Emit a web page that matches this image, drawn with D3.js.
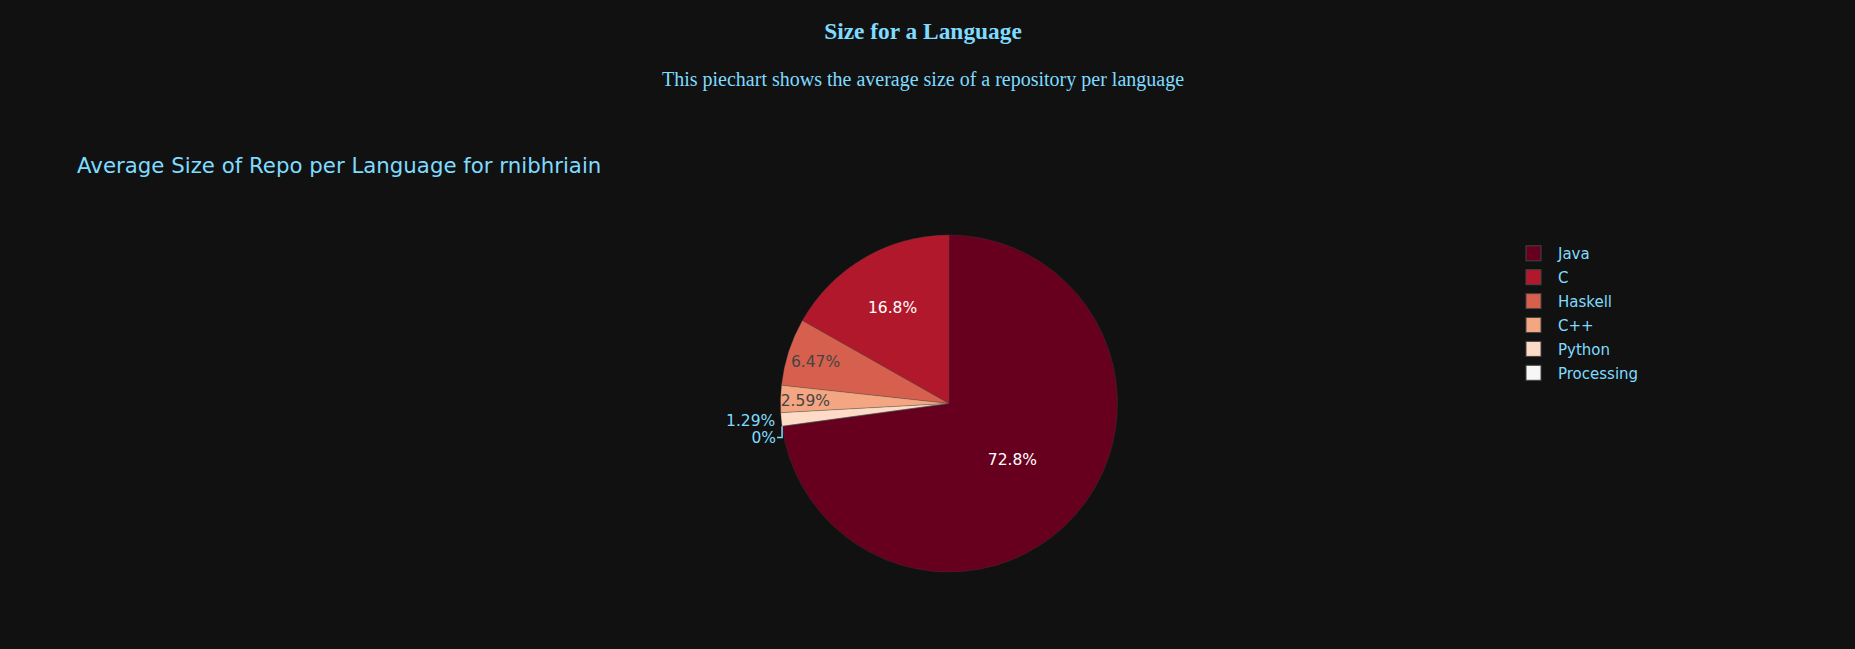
<!DOCTYPE html>
<html>
<head>
<meta charset="utf-8">
<script src="https://cdn.jsdelivr.net/npm/d3@7"></script>
<style>
  html, body { margin: 0; padding: 0; background: #111111; }
  svg { display: block; }
</style>
</head>
<body>
<script>
// Data
const languages = ["Java", "C", "Haskell", "C++", "Python", "Processing"];
const shares = [72.8, 16.8, 6.47, 2.59, 1.29, 0];
const sliceColors = ["#67001f", "#b2182b", "#d6604d", "#f4a582", "#fddbc7", "#f7f7f7"];

const pageTitle = "Size for a Language";
const pageSubtitle = "This piechart shows the average size of a repository per language";
const chartTitle = "Average Size of Repo per Language for rnibhriain";

// Layout
const width = 1855;
const height = 649;
const headerCenter = 923;
const textColor = "#7FDBFF";
const plotFont = "'DejaVu Sans', Verdana, sans-serif";
const labelSize = 15.5;
const center = { x: 949, y: 403.5 };
const radius = 168.5;

const svg = d3
  .select("body")
  .append("svg")
  .attr("width", width)
  .attr("height", height);

svg.append("rect").attr("width", width).attr("height", height).attr("fill", "#111111");

// Page header (serif, centered)
svg
  .append("text")
  .attr("x", headerCenter)
  .attr("y", 39)
  .attr("text-anchor", "middle")
  .style("font-family", "'Liberation Serif', 'Times New Roman', serif")
  .style("font-weight", "bold")
  .style("font-size", "23.4px")
  .attr("fill", textColor)
  .text(pageTitle);

svg
  .append("text")
  .attr("x", headerCenter)
  .attr("y", 86)
  .attr("text-anchor", "middle")
  .style("font-family", "'Liberation Serif', 'Times New Roman', serif")
  .style("font-size", "20px")
  .attr("fill", textColor)
  .text(pageSubtitle);

// Chart title
svg
  .append("text")
  .attr("x", 77)
  .attr("y", 173)
  .style("font-family", plotFont)
  .style("font-size", "21.3px")
  .attr("fill", textColor)
  .text(chartTitle);

const data = languages.map((name, i) => ({ name, value: shares[i], color: sliceColors[i] }));
const total = d3.sum(shares);
const firstAngle = (shares[0] / total) * 2 * Math.PI;

// counterclockwise layout, first slice ending at 12 o'clock
const pie = d3
  .pie()
  .sort(null)
  .value((d) => d.value)
  .startAngle(firstAngle)
  .endAngle(firstAngle - 2 * Math.PI);

const arcs = pie(data);
const arc = d3.arc().innerRadius(0).outerRadius(radius);

const g = svg.append("g").attr("transform", `translate(${center.x}, ${center.y})`);

g.selectAll("path.slice")
  .data(arcs)
  .enter()
  .append("path")
  .attr("class", "slice")
  .attr("d", arc)
  .attr("fill", (d) => d.data.color)
  .attr("stroke", "#444")
  .attr("stroke-width", 0.3);

const fmt = d3.format(".3~r");
const outside = [];

arcs.forEach((d) => {
  const frac = d.value / total;
  const mid = (d.startAngle + d.endAngle) / 2;
  const dir = [Math.sin(mid), -Math.cos(mid)];
  const txt = fmt(frac * 100) + "%";

  const t = g
    .append("text")
    .style("font-family", plotFont)
    .style("font-size", labelSize + "px")
    .attr("dominant-baseline", "central")
    .attr("dy", "0.1em")
    .attr("text-anchor", "middle")
    .text(txt);

  const w = t.node().getComputedTextLength();
  const h = labelSize;
  const half = Math.PI * Math.min(frac, 0.5);
  const rIns = Math.sin(half) / (1 + Math.sin(half));
  let dist;
  let inside = frac > 0;
  if (Math.hypot(w / 2, h / 2) <= rIns * radius) {
    dist = radius * (1 - rIns);
  } else {
    dist = radius - (Math.abs(dir[0]) * w) / 2 - (Math.abs(dir[1]) * h) / 2;
    const avail = dist * Math.tan(Math.abs(d.endAngle - d.startAngle) / 2);
    const perp = (Math.abs(dir[1]) * w) / 2 + (Math.abs(dir[0]) * h) / 2;
    inside = inside && perp <= avail;
  }

  if (inside) {
    const lum = d3.hsl(d.data.color).l;
    t.attr("x", dir[0] * dist)
      .attr("y", dir[1] * dist)
      .attr("fill", lum < 0.5 ? "#ffffff" : "#444444");
  } else {
    outside.push({ t, ex: dir[0] * radius, ey: dir[1] * radius, left: dir[0] < 0 });
  }
});

// outside labels, pushed apart vertically
outside.sort((a, b) => a.ey - b.ey);
let lastY = -Infinity;
outside.forEach((o) => {
  const y = Math.max(o.ey, lastY + 17);
  lastY = y;
  const sign = o.left ? -1 : 1;
  o.t
    .attr("x", o.ex + sign * 6)
    .attr("y", y)
    .attr("text-anchor", o.left ? "end" : "start")
    .attr("fill", textColor);
  if (y - o.ey > 1) {
    g.append("path")
      .attr("d", `M${o.ex},${o.ey}V${y + 1}H${o.ex + sign * 5}`)
      .attr("fill", "none")
      .attr("stroke", textColor)
      .attr("stroke-width", 1.5);
  }
});

// Legend
const legendY = d3
  .scalePoint()
  .domain(languages)
  .range([253.3, 253.3 + 23.9 * (languages.length - 1)]);

const legend = svg.append("g").attr("class", "legend");

legend
  .selectAll("rect")
  .data(data)
  .enter()
  .append("rect")
  .attr("x", 1526)
  .attr("y", (d) => legendY(d.name) - 7.5)
  .attr("width", 15)
  .attr("height", 15)
  .attr("fill", (d) => d.color)
  .attr("stroke", "#444")
  .attr("stroke-width", 1);

legend
  .selectAll("text")
  .data(data)
  .enter()
  .append("text")
  .attr("x", 1558)
  .attr("y", (d) => legendY(d.name))
  .attr("dominant-baseline", "central")
  .attr("dy", "0.05em")
  .style("font-family", plotFont)
  .style("font-size", "15px")
  .attr("fill", textColor)
  .text((d) => d.name);
</script>
</body>
</html>
